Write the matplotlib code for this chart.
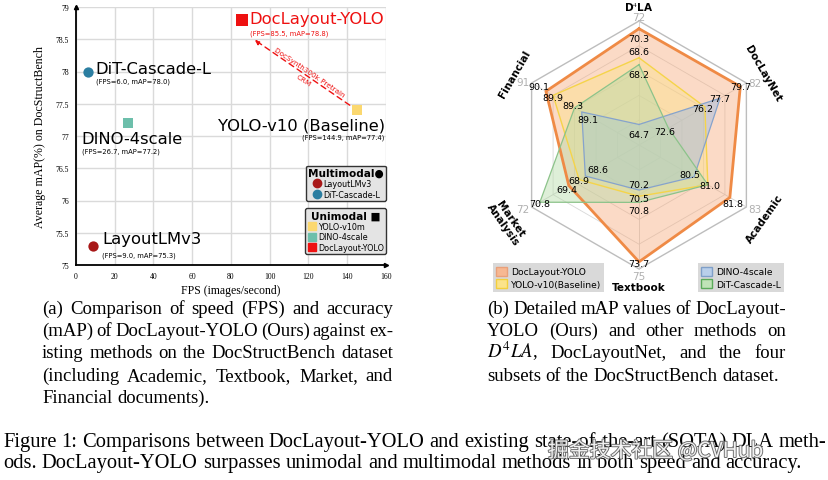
import numpy as np
import matplotlib
matplotlib.use("Agg")
import matplotlib.pyplot as plt
import matplotlib.patheffects as pe
from matplotlib.patches import Patch
from matplotlib.lines import Line2D
from matplotlib.transforms import offset_copy

plt.rcParams['font.family'] = ['DejaVu Sans']
plt.rcParams['mathtext.fontset'] = 'stix'
SERIF = 'Liberation Serif'

W, H = 829, 481

# (a) speed vs accuracy
names_a = ['DocLayout-YOLO', 'DiT-Cascade-L', 'DINO-4scale', 'YOLO-v10 (Baseline)', 'LayoutLMv3']
fps = [85.5, 6.0, 26.7, 144.9, 9.0]
map_avg = [78.8, 78.0, 77.2, 77.4, 75.3]

# (b) radar
categories = ['D$^4$LA', 'DocLayNet', 'Academic', 'Textbook', 'Market\nAnalysis', 'Financial']
axis_max_labels = [72, 82, 83, 75, 72, 91]
axis_lo = [63.5, 69.7, 78.5, 68.0, 66.0, 87.5]
axis_hi = [70.75, 80.3, 82.4, 74.05, 71.2, 90.5]
methods_b = ['DocLayout-YOLO', 'YOLO-v10(Baseline)', 'DINO-4scale', 'DiT-Cascade-L']
doclayout_yolo = [70.3, 79.7, 81.8, 73.7, 69.4, 90.1]
yolo_v10 = [68.6, 76.2, 81.0, 70.5, 68.9, 89.9]
dino_4scale = [64.7, 77.7, 80.5, 70.2, 68.6, 89.1]
dit_cascade = [68.2, 72.6, 81.0, 70.8, 70.8, 89.3]

fig = plt.figure(figsize=(W / 100, H / 100), dpi=100)

# ---------------- scatter ----------------
ax = fig.add_axes([76 / W, 1 - 266 / H, 310 / W, 258 / H])
ax.set_xlim(0, 160)
ax.set_ylim(75, 79)
ax.set_xticks(np.arange(0, 161, 20))
ax.set_yticks(np.arange(75, 79.01, 0.5))
ax.yaxis.set_major_formatter(plt.FuncFormatter(lambda v, p: '%g' % v))
ax.grid(color='#dadada', lw=1)
ax.set_axisbelow(True)
for s in ['top', 'right']:
    ax.spines[s].set_visible(False)
for s in ['left', 'bottom']:
    ax.spines[s].set_linewidth(1.3)
ax.plot(0, 1, '^', color='k', ms=3, transform=ax.transAxes, clip_on=False)
ax.plot(1, 0, '>', color='k', ms=3, transform=ax.transAxes, clip_on=False)
ax.tick_params(length=0, labelsize=5.5, pad=5)
for lab in ax.get_xticklabels() + ax.get_yticklabels():
    lab.set_family(SERIF)
ax.set_xlabel('FPS (images/second)', family=SERIF, fontsize=8.5, labelpad=3)
ax.set_ylabel('Average mAP(%) on DocStructBench', family=SERIF, fontsize=8.6, labelpad=7)

pt_colors = ['#ee1111', '#2b7ea1', '#6dbfab', '#fbd86f', '#a81818']
pt_markers = ['s', 'o', 's', 's', 'o']
pt_sizes = [70, 55, 55, 50, 55]
for i in range(len(fps)):
    ax.scatter(fps[i], map_avg[i], c=pt_colors[i], marker=pt_markers[i], s=pt_sizes[i],
               zorder=3, linewidths=0)

# label offsets in pixels (dx, dy down): name, then small stats line
lab_off = [(8, -1, 8, 13, 'left'), (8, -3, 8, 9, 'left'), (-46, 15, -46, 28, 'left'),
           (28, 15, 28, 27, 'right'), (9, -7, 9, 9, 'left')]
for i, nm in enumerate(names_a):
    dx, dy, sx, sy, ha = lab_off[i]
    col = '#ee1111' if i == 0 else 'black'
    ax.annotate(nm, (fps[i], map_avg[i]), xytext=(dx, -dy), textcoords='offset pixels',
                ha=ha, va='center', fontsize=11.8, color=col)
    ax.annotate('(FPS=%.1f, mAP=%.1f)' % (fps[i], map_avg[i]), (fps[i], map_avg[i]),
                xytext=(sx, -sy), textcoords='offset pixels', ha=ha, va='center',
                fontsize=4.9, color=col)

# dashed arrow from baseline to ours, ending just under the stats label
end_tr = offset_copy(ax.transData, fig=fig, x=13, y=-20, units='dots')
start_tr = offset_copy(ax.transData, fig=fig, x=-7, y=5, units='dots')
ax.annotate('', xy=(fps[0], map_avg[0]), xycoords=end_tr,
            xytext=(fps[3], map_avg[3]), textcoords=start_tr,
            arrowprops=dict(arrowstyle='-|>', color='#ee1111', lw=1, ls=(0, (4, 3)),
                            shrinkA=0, shrinkB=0, mutation_scale=7))
ax.text(118.7, 77.93, 'DocSynth300k Pretrain\nCRM', rotation=-34, ha='center', va='center',
        fontsize=5.2, color='#ee1111', linespacing=1.9, multialignment='center')

h_multi = [Line2D([], [], marker='o', ls='', color=pt_colors[4], ms=6),
           Line2D([], [], marker='o', ls='', color=pt_colors[1], ms=6)]
leg1 = ax.legend(h_multi, ['LayoutLMv3', 'DiT-Cascade-L'], title='Multimodal\u25CF',
                 loc='upper right', bbox_to_anchor=(1.0, 0.385), fontsize=5.8,
                 facecolor='#e4e4e4', edgecolor='#333333', framealpha=1,
                 handletextpad=0.3, borderpad=0.25, labelspacing=0.2, handlelength=1,
                 borderaxespad=0)
leg1.get_title().set_fontweight('bold')
leg1.get_title().set_fontsize(7.6)
ax.add_artist(leg1)
h_uni = [Patch(color=pt_colors[3]), Patch(color=pt_colors[2]), Patch(color=pt_colors[0])]
leg2 = ax.legend(h_uni, ['YOLO-v10m', 'DINO-4scale', 'DocLayout-YOLO'], title='Unimodal \u25A0',
                 loc='upper right', bbox_to_anchor=(1.0, 0.22), fontsize=5.8,
                 facecolor='#e4e4e4', edgecolor='#333333', framealpha=1,
                 handletextpad=0.3, borderpad=0.25, labelspacing=0.2, handlelength=1,
                 handleheight=1.1, borderaxespad=0)
leg2.get_title().set_fontweight('bold')
leg2.get_title().set_fontsize(7.6)

# ---------------- radar ----------------
R = 124.0
cx, cy = 639, 146
rx0, rx1, ry0, ry1 = 460, 818, 0, 300
rax = fig.add_axes([rx0 / W, 1 - ry1 / H, (rx1 - rx0) / W, (ry1 - ry0) / H])
rax.set_xlim(-(cx - rx0) / R, (rx1 - cx) / R)
rax.set_ylim(-(ry1 - cy) / R, (cy - ry0) / R)
rax.axis('off')

theta = np.deg2rad([90, 30, -30, -90, -150, 150])
lo = np.array(axis_lo)
hi = np.array(axis_hi)


def to_xy(vals):
    f = (np.array(vals) - lo) / (hi - lo)
    return f * np.cos(theta), f * np.sin(theta)


ring_t = np.append(theta, theta[0])
for r in [0.2, 0.4, 0.6, 0.8]:
    rax.plot(r * np.cos(ring_t), r * np.sin(ring_t), color='#d8d8d8', lw=0.6, zorder=1)
rax.plot(np.cos(ring_t), np.sin(ring_t), color='#bdbdbd', lw=1, zorder=1)
for t in theta:
    rax.plot([0, np.cos(t)], [0, np.sin(t)], color='#d0d0d0', lw=0.6, zorder=1)

series = [doclayout_yolo, yolo_v10, dino_4scale, dit_cascade]
edge_cols = ['#ef8a45', '#f5d44a', '#86a3cc', '#8cc38a']
fill_cols = ['#f6a878', '#fbe285', '#a4bde0', '#b7dca9']
edge_w = [2, 1, 0.9, 0.9]
fill_a = [0.42, 0.42, 0.5, 0.45]
for k, vals in enumerate(series):
    x, y = to_xy(vals)
    rax.fill(x, y, color=fill_cols[k], alpha=fill_a[k], lw=0, zorder=2 + k)
    rax.plot(np.append(x, x[0]), np.append(y, y[0]), color=edge_cols[k], lw=edge_w[k],
             zorder=6 + k)

# value label nudges in pixels (dx, dy down); default per axis
axis_nudge = [(0, 10), (0, 0), (2, 1), (0, 2), (0, 1), (0, 0)]
nudge = {(1, 0): (0, -6), (1, 1): (-2, 2), (3, 1): (-4, 3), (0, 2): (3, 6), (2, 2): (-4, -2),
         (3, 3): (0, 8), (2, 3): (0, -6), (0, 4): (-2, 4), (2, 4): (13, -6),
         (0, 5): (-7, -5), (1, 5): (0, 2), (3, 5): (-2, -2), (2, 5): (6, 8)}
done = set()
for k, vals in enumerate(series):
    x, y = to_xy(vals)
    for j in range(6):
        if (j, vals[j]) in done:
            continue
        done.add((j, vals[j]))
        dx, dy = nudge.get((k, j), axis_nudge[j])
        rax.annotate('%.1f' % vals[j], (x[j], y[j]), xytext=(dx, -dy), textcoords='offset pixels',
                     ha='center', va='center', fontsize=6.8, zorder=12)

max_off = [(0, -4), (8, 0), (8, 2), (0, 7), (-9, 2), (-9, -1)]
for j, m in enumerate(axis_max_labels):
    rax.annotate(str(m), (np.cos(theta[j]), np.sin(theta[j])), xytext=(max_off[j][0], -max_off[j][1]),
                 textcoords='offset pixels', ha='center', va='center', fontsize=7.5,
                 color='#b0b0b0', zorder=12)

cat_r = [1.12, 1.16, 1.17, 1.145, 1.23, 1.16]
cat_rot = [0, -60, 55, 0, -55, 60]
for j, c in enumerate(categories):
    rax.text(cat_r[j] * np.cos(theta[j]), cat_r[j] * np.sin(theta[j]), c, rotation=cat_rot[j],
             ha='center', va='center', fontsize=7.5, fontweight='bold', linespacing=0.95,
             rotation_mode='anchor', zorder=20)

h_b = [Patch(facecolor='#f7b892', edgecolor='#e9a07a'), Patch(facecolor='#fbe38a', edgecolor='#f3cf3c'),
       Patch(facecolor='#b9cfea', edgecolor='#7f9fc8'), Patch(facecolor='#bfe3b7', edgecolor='#5aaa5a')]
leg_kw = dict(fontsize=6.6, facecolor='#d9d9d9', edgecolor='none', framealpha=1, fancybox=False,
              handlelength=1.2, handleheight=1.2, handletextpad=0.4, borderpad=0.35,
              labelspacing=0.3, borderaxespad=0)
lb1 = rax.legend(h_b[:2], methods_b[:2], loc='lower left', bbox_to_anchor=(0.092, 0.023), **leg_kw)
rax.add_artist(lb1)
rax.legend(h_b[2:], methods_b[2:], loc='lower right', bbox_to_anchor=(0.905, 0.023), **leg_kw)

# ---------------- captions ----------------
renderer = fig.canvas.get_renderer()


def put_line(line, x0, x1, base, size, last=False):
    words = line.split(' ')
    objs = [fig.text(0, 1 - base / H, w, fontsize=size, family=SERIF, va='baseline') for w in words]
    widths = [o.get_window_extent(renderer).width for o in objs]
    if last or len(words) == 1:
        gap = size * 0.25 * 100 / 72
    else:
        gap = (x1 - x0 - sum(widths)) / (len(words) - 1)
    x = x0
    for o, w in zip(objs, widths):
        o.set_x(x / W)
        x += w + gap


cap_a = ['(a) Comparison of speed (FPS) and accuracy',
         '(mAP) of DocLayout-YOLO (Ours) against ex-',
         'isting methods on the DocStructBench dataset',
         '(including Academic, Textbook, Market, and',
         'Financial documents).']
cap_b = ['(b) Detailed mAP values of DocLayout-',
         'YOLO (Ours) and other methods on',
         '$D^4LA$, DocLayoutNet, and the four',
         'subsets of the DocStructBench dataset.']
cap_fig = ['Figure 1: Comparisons between DocLayout-YOLO and existing state-of-the-art (SOTA) DLA meth-',
           'ods. DocLayout-YOLO surpasses unimodal and multimodal methods in both speed and accuracy.']
bases = [314, 336, 358, 381, 403]
for i, ln in enumerate(cap_a):
    put_line(ln, 42, 393, bases[i], 13.5, last=(i == len(cap_a) - 1))
for i, ln in enumerate(cap_b):
    put_line(ln, 487, 786, bases[i], 13.5, last=(i == len(cap_b) - 1))
put_line(cap_fig[0], 3, 826, 447, 14.8)
put_line(cap_fig[1], 3, 826, 468, 14.8, last=True)

fig.text(548 / W, 1 - 452 / H, '掘金技术社区 @CVHub', fontsize=15, color='white', alpha=0.9,
         family=['Noto Sans CJK SC', 'DejaVu Sans'], va='center',
         path_effects=[pe.withStroke(linewidth=1.3, foreground=(0.35, 0.35, 0.35, 0.55))])

fig.savefig('out.png', dpi=100)
